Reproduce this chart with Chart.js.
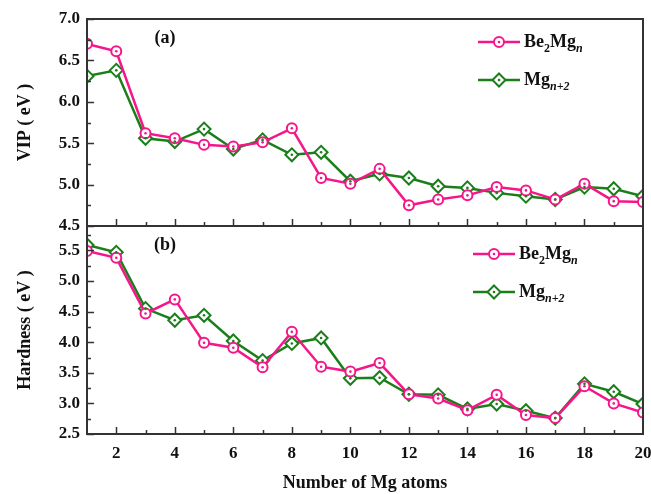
<!DOCTYPE html>
<html>
<head>
<meta charset="utf-8">
<script src="https://cdn.jsdelivr.net/npm/chart.js@4.4.1/dist/chart.umd.min.js"></script>
<style>
body{margin:0;background:#fff;}
#wrap{position:relative;width:651px;height:494px;}
canvas{position:absolute;left:0;}
</style>
</head>
<body>
<div id="wrap">
<canvas id="vip" width="651" height="240" style="top:0px"></canvas>
<canvas id="hard" width="651" height="288" style="top:206px"></canvas>
</div>
<script>
// number of Mg atoms
var atoms = [1,2,3,4,5,6,7,8,9,10,11,12,13,14,15,16,17,18,19,20];
// (a) VIP in eV
var vipBe2Mg = [6.70,6.61,5.62,5.56,5.48,5.46,5.51,5.68,5.08,5.01,5.19,4.75,4.82,4.87,4.97,4.93,4.82,5.01,4.80,4.79];
var vipMg    = [6.31,6.38,5.56,5.52,5.67,5.43,5.54,5.36,5.39,5.04,5.13,5.08,4.98,4.96,4.90,4.86,4.82,4.97,4.95,4.86];
// (b) hardness in eV
var hardBe2Mg = [5.49,5.38,4.47,4.70,3.99,3.91,3.59,4.17,3.60,3.52,3.66,3.15,3.08,2.89,3.14,2.81,2.76,3.28,3.00,2.85];
var hardMg    = [5.59,5.47,4.55,4.36,4.44,4.02,3.70,3.98,4.07,3.41,3.42,3.15,3.14,2.91,2.99,2.88,2.76,3.32,3.19,2.99];
var xTicks = [2,4,6,8,10,12,14,16,18,20];

var pink = '#f5168a';
var green = '#1a7f1a';
var serif = '"Liberation Serif", "Times New Roman", serif';

function pts(vals){
  return atoms.map(function(a,i){ return {x:a, y:vals[i]}; });
}

function drawMarker(ctx, style, x, y, color){
  ctx.save();
  ctx.lineWidth = 2;
  ctx.strokeStyle = color;
  ctx.fillStyle = '#fff';
  ctx.beginPath();
  if(style === 'circle'){
    ctx.arc(x, y, 5, 0, 2*Math.PI);
  } else {
    ctx.moveTo(x, y-6.5); ctx.lineTo(x+6.5, y); ctx.lineTo(x, y+6.5); ctx.lineTo(x-6.5, y); ctx.closePath();
  }
  ctx.fill(); ctx.stroke();
  ctx.fillStyle = color;
  ctx.beginPath(); ctx.arc(x, y, 1.3, 0, 2*Math.PI); ctx.fill();
  ctx.restore();
}

function drawRich(ctx, parts, x, y){
  parts.forEach(function(p){
    if(p[1] === 'n') ctx.font = 'bold 18px ' + serif;
    else if(p[1] === 'sub') ctx.font = 'bold 12px ' + serif;
    else ctx.font = 'italic bold 12px ' + serif;
    var dy = p[1] === 'n' ? 0 : 7;
    ctx.fillText(p[0], x, y + dy);
    x += ctx.measureText(p[0]).width;
  });
}

var legendItems = [
  {parts:[['Be','n'],['2','sub'],['Mg','n'],['n','subi']], color:pink, style:'circle'},
  {parts:[['Mg','n'],['n+2','subi']], color:green, style:'diamond'}
];

var panelPlugin = {
  id: 'panel',
  afterDatasetsDraw: function(chart){
    var ctx = chart.ctx, a = chart.chartArea;
    ctx.save();
    ctx.beginPath(); ctx.rect(a.left, a.top, a.right-a.left, a.bottom-a.top); ctx.clip();
    chart.data.datasets.forEach(function(ds, i){
      ctx.fillStyle = ds.borderColor;
      chart.getDatasetMeta(i).data.forEach(function(pt){
        ctx.beginPath(); ctx.arc(pt.x, pt.y, 1.3, 0, 2*Math.PI); ctx.fill();
      });
    });
    ctx.restore();
  },
  afterDraw: function(chart, args, opts){
    var ctx = chart.ctx, a = chart.chartArea, xs = chart.scales.x, ys = chart.scales.y;
    ctx.save();
    ctx.strokeStyle = '#333';
    ctx.lineWidth = 2;
    ctx.strokeRect(a.left, a.top, a.right-a.left, a.bottom-a.top);
    ctx.lineWidth = 1.5;
    ctx.beginPath();
    for(var v = ys.min; v <= ys.max + 1e-9; v += 0.25){
      var py = Math.round(ys.getPixelForValue(v)) + 0.5;
      var major = Math.abs(v*2 - Math.round(v*2)) < 1e-6;
      ctx.moveTo(a.left, py); ctx.lineTo(a.left + (major ? 7 : 4), py);
    }
    for(var k = 2; k < 20; k++){
      var px = Math.round(xs.getPixelForValue(k)) + 0.5;
      ctx.moveTo(px, a.bottom); ctx.lineTo(px, a.bottom - (k % 2 === 0 ? 7 : 4));
    }
    ctx.stroke();
    // panel letter
    ctx.fillStyle = '#111';
    ctx.font = 'bold 18px ' + serif;
    ctx.textAlign = 'center';
    ctx.textBaseline = 'middle';
    ctx.fillText(opts.letter, 165, a.top + 19);
    // legend
    ctx.textAlign = 'left';
    legendItems.forEach(function(it, i){
      var y = opts.legendY[i];
      ctx.strokeStyle = it.color; ctx.lineWidth = 2.5;
      ctx.beginPath(); ctx.moveTo(opts.legendX, y); ctx.lineTo(opts.legendX + 42, y); ctx.stroke();
      drawMarker(ctx, it.style, opts.legendX + 21, y, it.color);
      ctx.fillStyle = '#111';
      drawRich(ctx, it.parts, opts.legendX + 46, y);
    });
    ctx.restore();
  }
};

function lineSet(label, vals, color, style){
  return {
    label: label,
    data: pts(vals),
    borderColor: color,
    backgroundColor: '#fff',
    borderWidth: 2.5,
    pointStyle: style,
    pointRadius: style === 'circle' ? 5 : 6.5,
    pointHoverRadius: style === 'circle' ? 5 : 6.5,
    pointBorderWidth: 2,
    pointBackgroundColor: '#fff',
    tension: 0,
    clip: 0
  };
}

function yAxis(min, max, title, titlePad){
  return {
    type: 'linear', min: min, max: max,
    afterFit: function(s){ s.width = 87; s.paddingTop = 0; s.paddingBottom = 0; },
    grid: {display: false, drawTicks: false},
    border: {display: false},
    ticks: {stepSize: 0.5, includeBounds: false, padding: 7, color: '#111',
      font: {family: serif, size: 17, weight: 'bold'},
      callback: function(v){ return v.toFixed(1); }},
    title: {display: true, text: title, color: '#111', padding: {top: titlePad, bottom: 0},
      font: {family: serif, size: 18, weight: 'bold'}}
  };
}

Chart.defaults.animation = false;

new Chart(document.getElementById('vip').getContext('2d'), {
  type: 'line',
  data: {datasets: [lineSet('Be2Mgn', vipBe2Mg, pink, 'circle'), lineSet('Mgn+2', vipMg, green, 'rectRot')]},
  options: {
    responsive: false,
    layout: {autoPadding: false, padding: {top: 19, right: 8, bottom: 14, left: 0}},
    plugins: {legend: {display: false}, tooltip: {enabled: false},
      panel: {letter: '(a)', legendY: [42, 80], legendX: 478}},
    scales: {
      x: {type: 'linear', min: 1, max: 20, display: false},
      y: yAxis(4.5, 7.0, 'VIP ( eV )', 15)
    }
  },
  plugins: [panelPlugin]
});

new Chart(document.getElementById('hard').getContext('2d'), {
  type: 'line',
  data: {datasets: [lineSet('Be2Mgn', hardBe2Mg, pink, 'circle'), lineSet('Mgn+2', hardMg, green, 'rectRot')]},
  options: {
    responsive: false,
    layout: {autoPadding: false, padding: {top: 20, right: 8, bottom: 0, left: 0}},
    plugins: {legend: {display: false}, tooltip: {enabled: false},
      panel: {letter: '(b)', legendY: [48, 86], legendX: 473}},
    scales: {
      x: {type: 'linear', min: 1, max: 20,
        afterFit: function(s){ s.height = 60; s.paddingLeft = 0; s.paddingRight = 0; },
        afterBuildTicks: function(s){ s.ticks = xTicks.map(function(v){ return {value: v}; }); },
        grid: {display: false, drawTicks: false},
        border: {display: false},
        ticks: {padding: 9, color: '#111', autoSkip: false, maxRotation: 0,
          font: {family: serif, size: 17, weight: 'bold'}},
        title: {display: true, text: 'Number of Mg atoms', color: '#111', padding: {top: 1, bottom: 0},
          font: {family: serif, size: 18, weight: 'bold'}}
      },
      y: yAxis(2.5, 5.9, 'Hardness ( eV )', 15)
    }
  },
  plugins: [panelPlugin]
});
</script>
</body>
</html>
